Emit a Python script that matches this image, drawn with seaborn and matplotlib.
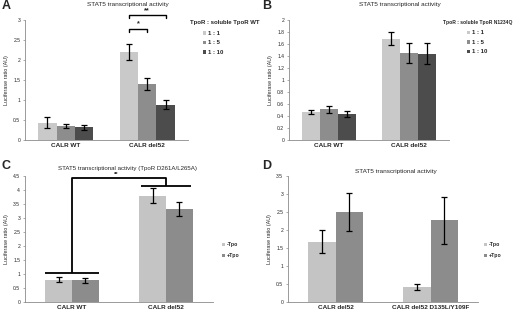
import matplotlib
matplotlib.use("Agg")
import matplotlib.pyplot as plt
import seaborn as sns
import pandas as pd
from matplotlib.patches import Patch

sns.set_style("white")
plt.rcParams['font.family'] = ['Liberation Sans', 'DejaVu Sans']

# ---------------- data ----------------
groups_AB = ["CALR WT", "CALR del52"]
ratios = ["1 : 1", "1 : 5", "1 : 10"]
means_A = {"1 : 1": [0.43, 2.20], "1 : 5": [0.35, 1.40], "1 : 10": [0.32, 0.88]}
errs_A = {"1 : 1": [0.14, 0.19], "1 : 5": [0.06, 0.14], "1 : 10": [0.06, 0.11]}
means_B = {"1 : 1": [0.47, 1.69], "1 : 5": [0.51, 1.45], "1 : 10": [0.44, 1.44]}
errs_B = {"1 : 1": [0.03, 0.11], "1 : 5": [0.06, 0.16], "1 : 10": [0.05, 0.18]}

groups_C = ["CALR WT", "CALR del52"]
tpo = ["-Tpo", "+Tpo"]
means_C = {"-Tpo": [0.80, 3.80], "+Tpo": [0.78, 3.33]}
errs_C = {"-Tpo": [0.10, 0.28], "+Tpo": [0.09, 0.25]}

groups_D = ["CALR del52", "CALR del52 D135L/Y109F"]
means_D = {"-Tpo": [1.68, 0.42], "+Tpo": [2.50, 2.27]}
errs_D = {"-Tpo": [0.33, 0.08], "+Tpo": [0.52, 0.65]}

col3 = ["#c9c9c9", "#8d8d8d", "#4c4c4c"]
col2 = ["#c4c4c4", "#8c8c8c"]

W, H = 520, 310
fig = plt.figure(figsize=(W / 100, H / 100), dpi=100)


def ax_px(l, t, r, b):
    return fig.add_axes([l / W, 1 - b / H, (r - l) / W, (b - t) / H])


def make_df(groups, levels, means):
    rows = []
    for lv in levels:
        for g, v in zip(groups, means[lv]):
            rows.append({"group": g, "level": lv, "value": v})
    return pd.DataFrame(rows)


def panel(ax, groups, levels, means, errs, colors, width, ymax, ystep):
    df = make_df(groups, levels, means)
    sns.barplot(data=df, x="group", y="value", hue="level", order=groups,
                hue_order=levels, palette=colors, width=width, gap=0,
                errorbar=None, legend=False, ax=ax, linewidth=0, saturation=1)
    centers = {}
    for i, lv in enumerate(levels):
        cont = ax.containers[i]
        for j, bar in enumerate(cont):
            x = bar.get_x() + bar.get_width() / 2
            centers[(lv, j)] = x
            ax.errorbar(x, bar.get_height(), yerr=errs[lv][j], color="black",
                        lw=0.9, capsize=2.3, capthick=0.9, zorder=5)
    ax.set_xlim(-0.5, 1.5)
    ax.set_ylim(0, ymax)
    ticks = [round(k * ystep, 3) for k in range(int(round(ymax / ystep)) + 1)]
    ax.set_yticks(ticks)
    ax.set_yticklabels(["%g" % t for t in ticks])
    ax.set_xlabel("")
    ax.set_ylabel("Luciferase ratio (AU)", fontsize=3.9, labelpad=3)
    for s in ["top", "right"]:
        ax.spines[s].set_visible(False)
    for s in ["left", "bottom"]:
        ax.spines[s].set_color("#8a8a8a")
        ax.spines[s].set_linewidth(0.6)
    ax.tick_params(axis="y", labelsize=3.6, length=1.5, width=0.5,
                   color="#8a8a8a", pad=2, left=True)
    ax.tick_params(axis="x", labelsize=4.6, length=0, pad=2)
    for lab in ax.get_xticklabels():
        lab.set_fontweight("bold")
    ax.set_facecolor("white")
    return centers


def legend(ax, levels, colors, x, y, fs=4.3, spacing=0.75):
    handles = [Patch(facecolor=c, edgecolor="none") for c in colors]
    lg = ax.legend(handles, levels, loc="upper left",
                   bbox_to_anchor=(x / W, 1 - y / H), bbox_transform=fig.transFigure,
                   frameon=False, fontsize=fs, handlelength=0.5, handleheight=0.5,
                   handletextpad=0.4, labelspacing=spacing, borderaxespad=0,
                   borderpad=0)
    for t in lg.get_texts():
        t.set_fontweight("bold")
    return lg


# ---------------- Panel A ----------------
axA = ax_px(25, 20, 188, 140)
cA = panel(axA, groups_AB, ratios, means_A, errs_A, col3, 0.675, 3, 0.5)
legend(axA, ratios, col3, 203, 31)
fig.text(190 / W, 1 - 22.5 / H, "TpoR : soluble TpoR WT", ha="left", va="center",
         fontsize=4.3, fontweight="bold")
# significance brackets
x1, x2, x3 = cA[("1 : 1", 1)], cA[("1 : 5", 1)], cA[("1 : 10", 1)]
for (xa, xb, yb, txt) in [(x1, x2, 2.78, "*"), (x1, x3, 3.125, "**")]:
    axA.plot([xa, xa, xb, xb], [yb - 0.08, yb, yb, yb - 0.08], color="black",
             lw=1.0, clip_on=False)
    axA.text((xa + xb) / 2, yb + 0.03, txt, ha="center", va="bottom",
             fontsize=5.2, fontweight="bold", clip_on=False)

# ---------------- Panel B ----------------
axB = ax_px(289, 20, 449, 140)
panel(axB, groups_AB, ratios, means_B, errs_B, col3, 0.675, 2, 0.2)
legend(axB, ratios, col3, 467, 30.5)
fig.text(443 / W, 1 - 22.5 / H, "TpoR : soluble TpoR N1234Q", ha="left",
         va="center", fontsize=3.6, fontweight="bold")

# ---------------- Panel C ----------------
axC = ax_px(25, 176, 213, 302)
cC = panel(axC, groups_C, tpo, means_C, errs_C, col2, 0.57, 4.5, 0.5)
legend(axC, tpo, col2, 222, 242, fs=3.7, spacing=1.2)
wl = cC[("-Tpo", 0)] - 0.285 / 2 - 0.005
wr = cC[("+Tpo", 0)] + 0.285 / 2
dl = cC[("-Tpo", 1)] - 0.285 / 2 + 0.02
dr = cC[("+Tpo", 1)] + 0.285 / 2 - 0.02
kw = dict(color="black", lw=1.3, clip_on=False, solid_capstyle="butt")
axC.plot([wl, wr], [1.03, 1.03], **kw)
axC.plot([0, 0, 1, 1], [1.03, 4.42, 4.42, 4.14], **kw)
axC.plot([dl, dr], [4.14, 4.14], **kw)
axC.text(0.47, 4.45, "**", ha="center", va="bottom", fontsize=4.2,
         fontweight="bold", clip_on=False)

# ---------------- Panel D ----------------
axD = ax_px(288, 176, 478, 302)
panel(axD, groups_D, tpo, means_D, errs_D, col2, 0.57, 3.5, 0.5)
legend(axD, tpo, col2, 484, 242, fs=3.7, spacing=1.2)

# ---------------- titles & panel letters ----------------
fig.text(128 / W, 1 - 4.5 / H, "STAT5 transcriptional activity", ha="center",
         va="center", fontsize=4.6)
fig.text(400 / W, 1 - 4.5 / H, "STAT5 transcriptional activity", ha="center",
         va="center", fontsize=4.6)
fig.text(128 / W, 1 - 168.5 / H, "STAT5 transcriptional activity (TpoR D261A/L265A)",
         ha="center", va="center", fontsize=4.4)
fig.text(396 / W, 1 - 172 / H, "STAT5 transcriptional activity", ha="center",
         va="center", fontsize=4.6)
for (x, y, L) in [(2, 6, "A"), (262, 6, "B"), (2, 166, "C"), (262, 166, "D")]:
    fig.text(x / W, 1 - y / H, L, ha="left", va="center", fontsize=9,
             fontweight="bold")

fig.savefig("out.png", dpi=100, facecolor="white")
